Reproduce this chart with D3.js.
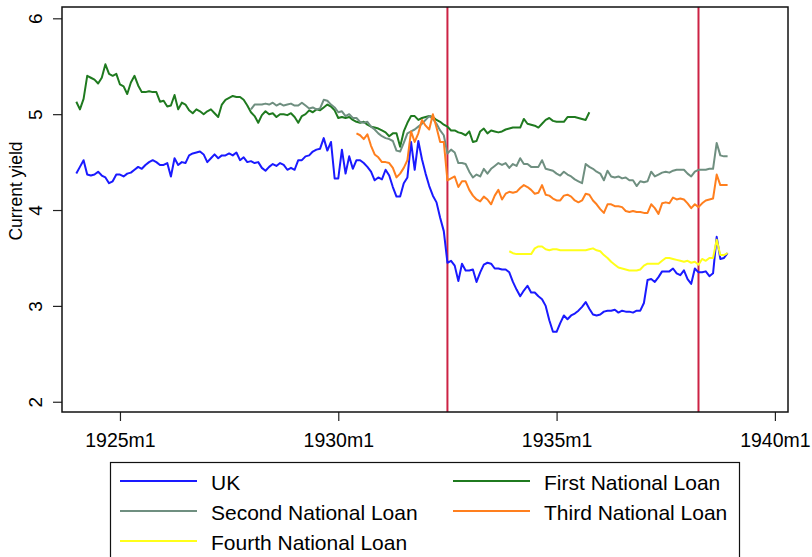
<!DOCTYPE html>
<html>
<head>
    <meta charset="utf-8" />
    <title>Current yield</title>
    <script src="https://d3js.org/d3.v7.min.js"></script>
    <style>
        body { margin: 0; background: #ffffff; }
        svg text { font-family: "Liberation Sans", Arial, sans-serif; fill: #000; }
        .tick line { stroke: #222; stroke-width: 1.2px; }
        .series { fill: none; stroke-width: 2px; stroke-linejoin: round; }
    </style>
</head>
<body>
<div id="chart"></div>
<script type="text/javascript">
    // monthly current yields, each series listed from its first month
    var ukYield = [
        4.38,4.45,4.52,4.37,4.36,4.37,4.40,4.36,4.34,4.28,4.30,4.37,
        4.37,4.35,4.38,4.39,4.42,4.45,4.43,4.47,4.50,4.52,4.50,4.47,
        4.47,4.49,4.35,4.54,4.47,4.50,4.49,4.57,4.59,4.60,4.61,4.58,
        4.50,4.54,4.58,4.54,4.57,4.57,4.59,4.57,4.60,4.52,4.55,4.50,
        4.51,4.49,4.50,4.44,4.41,4.45,4.48,4.46,4.49,4.47,4.42,4.44,
        4.42,4.52,4.52,4.56,4.57,4.61,4.63,4.64,4.75,4.62,4.71,4.33,
        4.33,4.63,4.38,4.56,4.43,4.52,4.52,4.49,4.45,4.40,4.31,4.34,
        4.32,4.42,4.36,4.24,4.14,4.14,4.28,4.34,4.71,4.42,4.72,4.53,
        4.38,4.25,4.15,4.08,3.92,3.78,3.45,3.47,3.42,3.26,3.44,3.37,
        3.37,3.38,3.25,3.35,3.43,3.45,3.44,3.39,3.39,3.38,3.38,3.35,
        3.25,3.17,3.10,3.16,3.21,3.14,3.14,3.10,3.07,3.00,2.85,2.73,
        2.73,2.82,2.90,2.86,2.90,2.92,2.95,2.99,3.04,2.97,2.91,2.90,
        2.91,2.94,2.95,2.95,2.96,2.93,2.95,2.94,2.94,2.93,2.95,2.95,
        3.03,3.27,3.28,3.25,3.30,3.36,3.36,3.36,3.39,3.34,3.32,3.37,
        3.28,3.23,3.39,3.35,3.35,3.36,3.31,3.34,3.72,3.49,3.50,3.55];
    var firstLoan = [
        5.13,5.05,5.16,5.40,5.38,5.36,5.32,5.38,5.52,5.42,5.40,5.42,
        5.31,5.29,5.21,5.33,5.40,5.30,5.23,5.23,5.24,5.23,5.23,5.13,
        5.14,5.08,5.09,5.20,5.05,5.12,5.10,5.04,5.01,5.05,5.03,5.00,
        5.03,5.05,5.01,4.97,5.10,5.15,5.17,5.19,5.18,5.18,5.15,5.09,
        5.02,4.98,4.91,4.99,5.03,5.00,5.01,4.97,5.00,5.00,4.99,5.01,
        4.97,4.91,4.98,5.00,5.04,5.02,5.05,5.04,5.07,5.10,5.08,5.04,
        4.96,4.97,4.96,4.97,4.94,4.92,4.91,4.92,4.89,4.87,4.86,4.85,
        4.83,4.81,4.77,4.80,4.80,4.66,4.82,4.91,4.98,4.98,4.94,4.96,
        4.97,4.98,4.97,4.94,4.92,4.89,4.87,4.83,4.83,4.81,4.80,4.78,
        4.82,4.71,4.72,4.82,4.85,4.80,4.83,4.82,4.81,4.82,4.84,4.85,
        4.86,4.86,4.86,4.95,4.90,4.89,4.88,4.86,4.90,4.94,4.96,4.93,
        4.92,4.92,4.92,4.97,4.97,4.97,4.96,4.95,4.94,5.02];
    var secondLoan = [
        5.05,5.10,5.10,5.10,5.11,5.10,5.12,5.09,5.11,5.09,5.10,5.11,
        5.09,5.09,5.12,5.09,5.06,5.07,5.05,5.06,5.15,5.14,5.10,5.07,
        5.02,5.03,4.98,5.00,4.96,4.96,4.92,4.91,4.92,4.87,4.84,4.80,
        4.77,4.75,4.74,4.72,4.62,4.61,4.70,4.80,4.82,4.84,4.87,4.90,
        4.94,4.98,4.95,4.90,4.83,4.78,4.59,4.63,4.60,4.49,4.49,4.48,
        4.40,4.34,4.37,4.35,4.43,4.38,4.43,4.46,4.49,4.47,4.49,4.44,
        4.48,4.46,4.54,4.48,4.48,4.45,4.45,4.45,4.52,4.43,4.42,4.41,
        4.38,4.36,4.40,4.37,4.35,4.32,4.30,4.28,4.48,4.45,4.43,4.40,
        4.38,4.31,4.41,4.35,4.34,4.35,4.33,4.34,4.31,4.31,4.25,4.30,
        4.29,4.30,4.40,4.35,4.37,4.39,4.40,4.39,4.41,4.42,4.42,4.42,
        4.38,4.35,4.40,4.42,4.42,4.42,4.43,4.43,4.70,4.57,4.56,4.56];
    var thirdLoan = [
        4.80,4.78,4.74,4.79,4.67,4.58,4.55,
        4.50,4.50,4.49,4.44,4.34,4.38,4.44,4.52,4.82,4.71,4.80,4.94,
        4.88,4.84,5.00,4.86,4.71,4.71,4.31,4.33,4.35,4.24,4.30,4.30,
        4.21,4.15,4.11,4.09,4.14,4.11,4.06,4.15,4.21,4.11,4.17,4.19,
        4.18,4.19,4.23,4.26,4.24,4.21,4.17,4.18,4.26,4.16,4.15,4.12,
        4.10,4.10,4.15,4.16,4.14,4.10,4.08,4.10,4.17,4.16,4.10,4.06,
        4.01,3.97,4.06,4.06,4.04,4.04,4.03,3.99,3.98,3.99,3.98,3.98,
        3.97,3.97,4.06,4.02,3.96,4.07,4.08,4.07,4.13,4.11,4.12,4.11,
        4.07,4.02,4.06,4.03,4.07,4.10,4.11,4.12,4.37,4.26,4.26,4.26];
    var fourthLoan = [
        3.57,
        3.55,3.54,3.54,3.54,3.54,3.54,3.60,3.62,3.62,3.59,3.58,3.59,
        3.59,3.58,3.58,3.58,3.58,3.58,3.58,3.58,3.58,3.59,3.60,3.58,
        3.57,3.53,3.50,3.46,3.43,3.40,3.39,3.38,3.37,3.37,3.37,3.38,
        3.42,3.44,3.44,3.44,3.44,3.47,3.50,3.50,3.49,3.48,3.47,3.46,
        3.47,3.45,3.46,3.43,3.49,3.47,3.50,3.50,3.69,3.53,3.53,3.55];

    var seriesNames = ["UK", "First National Loan", "Second National Loan", "Third National Loan", "Fourth National Loan"];
    var seriesStarts = ["1924m1", "1924m1", "1928m1", "1930m6", "1933m12"];
    var seriesValues = [ukYield, firstLoan, secondLoan, thirdLoan, fourthLoan];
    var seriesColors = ["#1a1aff", "#1f7a1f", "#6f8f80", "#ff7f1e", "#ffff1a"];
    var xTickLabels = ["1925m1", "1930m1", "1935m1", "1940m1"];
    var yTicks = [2, 3, 4, 5, 6];
    var markMonths = ["1932m7", "1938m4"];

    // months counted from 1924m1
    function monthIndex(s) {
        var p = s.split("m");
        return (+p[0] - 1924) * 12 + (+p[1] - 1);
    }

    var W = 812, H = 557;
    var plotL = 62, plotR = 788, plotT = 7, plotB = 412;

    var x = d3.scaleLinear().domain([-3.93, 195.6]).range([plotL, plotR]);
    var y = d3.scaleLinear().domain([1.893, 6.118]).range([plotB, plotT]);

    var svg = d3.select("#chart").append("svg")
        .attr("width", W)
        .attr("height", H)
        .style("display", "block");

    svg.append("rect").attr("width", W).attr("height", H).attr("fill", "#fff");

    // y axis, labels turned like Stata does
    var yAxis = svg.append("g")
        .attr("transform", "translate(" + plotL + ",0)")
        .call(d3.axisLeft(y).tickValues(yTicks).tickSize(9).tickFormat(d3.format("d")));
    yAxis.select(".domain").remove();
    yAxis.selectAll("text")
        .attr("x", null).attr("dy", null)
        .attr("text-anchor", "middle")
        .attr("transform", "translate(-20.5,0) rotate(-90)")
        .style("font-size", "19px");

    var xAxis = svg.append("g")
        .attr("transform", "translate(0," + plotB + ")")
        .call(d3.axisBottom(x)
            .tickValues(xTickLabels.map(monthIndex))
            .tickSize(9)
            .tickFormat(function(d, i) { return xTickLabels[i]; }));
    xAxis.select(".domain").remove();
    xAxis.selectAll("text")
        .attr("y", 35).attr("dy", null)
        .style("font-size", "19.5px");

    svg.append("text")
        .attr("transform", "translate(22,191) rotate(-90)")
        .attr("text-anchor", "middle")
        .style("font-size", "17.5px")
        .text("Current yield");

    // vertical marker lines
    svg.selectAll(".mark")
        .data(markMonths)
        .enter().append("line")
        .attr("class", "mark")
        .attr("x1", function(d) { return x(monthIndex(d)); })
        .attr("x2", function(d) { return x(monthIndex(d)); })
        .attr("y1", plotT)
        .attr("y2", plotB)
        .attr("stroke", "#cc2244")
        .attr("stroke-width", 2);

    var line = d3.line()
        .x(function(d) { return x(d.m); })
        .y(function(d) { return y(d.v); });

    seriesValues.forEach(function(vals, k) {
        var m0 = monthIndex(seriesStarts[k]);
        var pts = vals.map(function(v, i) { return { m: m0 + i, v: v }; });
        svg.append("path")
            .datum(pts)
            .attr("class", "series")
            .attr("stroke", seriesColors[k])
            .attr("d", line);
    });

    // plot frame
    svg.append("rect")
        .attr("x", plotL).attr("y", plotT)
        .attr("width", plotR - plotL).attr("height", plotB - plotT)
        .attr("fill", "none")
        .attr("stroke", "#111")
        .attr("stroke-width", 1.5);

    // legend
    var legX = [120, 453], legY = [481, 511, 541];
    svg.append("rect")
        .attr("x", 110.5).attr("y", 462.5)
        .attr("width", 629).attr("height", 120)
        .attr("fill", "none")
        .attr("stroke", "#111")
        .attr("stroke-width", 1.2);

    var leg = svg.selectAll(".leg")
        .data(seriesNames)
        .enter().append("g")
        .attr("class", "leg")
        .attr("transform", function(d, i) {
            return "translate(" + legX[i % 2] + "," + legY[Math.floor(i / 2)] + ")";
        });
    leg.append("line")
        .attr("x1", 0).attr("x2", 77)
        .attr("stroke", function(d, i) { return seriesColors[i]; })
        .attr("stroke-width", 2);
    leg.append("text")
        .attr("x", 91).attr("y", 8.5)
        .style("font-size", "21px")
        .text(function(d) { return d; });
</script>
</body>
</html>
